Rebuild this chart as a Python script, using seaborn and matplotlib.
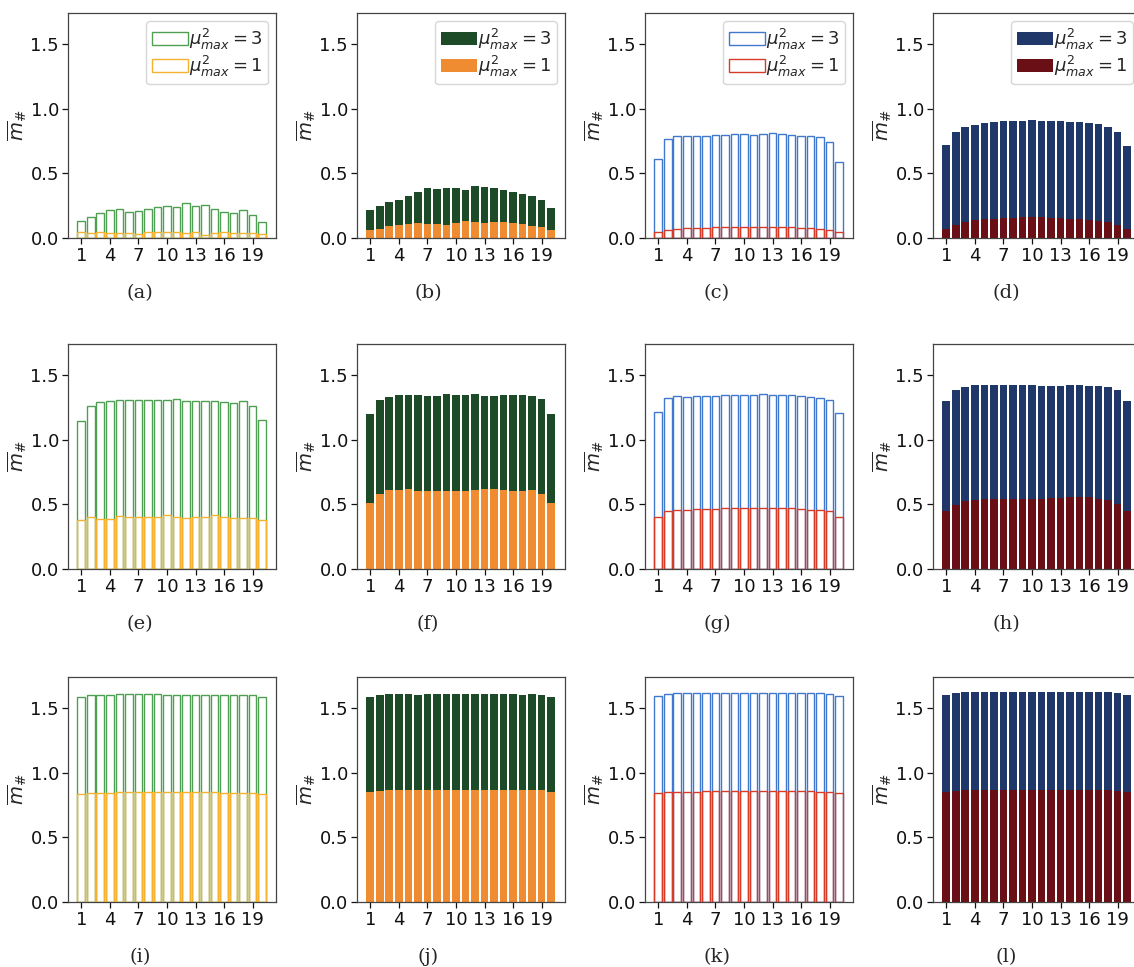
import numpy as np
import pandas as pd
import matplotlib
matplotlib.use("Agg")
import matplotlib.pyplot as plt
import seaborn as sns

sns.set_style("ticks")
plt.rcParams["font.family"] = ["DejaVu Sans"]
plt.rcParams["mathtext.fontset"] = "dejavusans"

sites = list(range(1, 21))
xtick_labels = [1, 4, 7, 10, 13, 16, 19]
panel_tags = ["(a)", "(b)", "(c)", "(d)", "(e)", "(f)", "(g)", "(h)", "(i)", "(j)", "(k)", "(l)"]
series_labels = [r"$\mu^2_{max}=3$", r"$\mu^2_{max}=1$"]

# mean occupation per site, mu^2_max = 3 (upper) and mu^2_max = 1 (lower)
a_hi = [0.129, 0.162, 0.193, 0.214, 0.224, 0.198, 0.208, 0.224, 0.239, 0.244,
        0.239, 0.270, 0.250, 0.252, 0.224, 0.203, 0.193, 0.214, 0.178, 0.121]
a_lo = [0.045, 0.040, 0.045, 0.040, 0.035, 0.035, 0.030, 0.045, 0.045, 0.050,
        0.050, 0.035, 0.045, 0.025, 0.035, 0.045, 0.035, 0.035, 0.040, 0.030]
b_hi = [0.219, 0.244, 0.275, 0.291, 0.322, 0.355, 0.386, 0.378, 0.383, 0.386,
        0.373, 0.404, 0.396, 0.383, 0.373, 0.355, 0.340, 0.322, 0.291, 0.229]
b_lo = [0.064, 0.072, 0.090, 0.103, 0.111, 0.116, 0.105, 0.105, 0.103, 0.118,
        0.129, 0.126, 0.116, 0.121, 0.121, 0.113, 0.105, 0.095, 0.085, 0.064]
c_hi = [0.610, 0.764, 0.785, 0.785, 0.792, 0.792, 0.795, 0.800, 0.803, 0.808,
        0.798, 0.805, 0.813, 0.803, 0.798, 0.792, 0.790, 0.782, 0.743, 0.589]
c_lo = [0.046, 0.064, 0.072, 0.077, 0.080, 0.080, 0.082, 0.085, 0.085, 0.085,
        0.085, 0.085, 0.085, 0.085, 0.082, 0.080, 0.077, 0.072, 0.064, 0.046]
d_hi = [0.720, 0.823, 0.859, 0.875, 0.888, 0.895, 0.906, 0.908, 0.908, 0.911,
        0.908, 0.903, 0.903, 0.900, 0.895, 0.888, 0.880, 0.859, 0.818, 0.710]
d_lo = [0.069, 0.100, 0.126, 0.139, 0.144, 0.149, 0.152, 0.157, 0.160, 0.160,
        0.160, 0.157, 0.154, 0.149, 0.147, 0.141, 0.134, 0.126, 0.103, 0.069]
e_hi = [1.145, 1.258, 1.289, 1.302, 1.304, 1.310, 1.310, 1.310, 1.304, 1.304,
        1.315, 1.302, 1.302, 1.297, 1.297, 1.291, 1.286, 1.297, 1.258, 1.150]
e_lo = [0.376, 0.399, 0.383, 0.386, 0.409, 0.406, 0.406, 0.404, 0.406, 0.414,
        0.399, 0.394, 0.404, 0.399, 0.419, 0.406, 0.396, 0.396, 0.391, 0.378]
f_hi = [1.201, 1.310, 1.330, 1.343, 1.343, 1.343, 1.335, 1.338, 1.351, 1.343,
        1.343, 1.351, 1.338, 1.338, 1.346, 1.346, 1.346, 1.340, 1.315, 1.201]
f_lo = [0.512, 0.581, 0.610, 0.610, 0.617, 0.605, 0.605, 0.602, 0.602, 0.607,
        0.605, 0.610, 0.615, 0.615, 0.612, 0.607, 0.605, 0.610, 0.581, 0.509]
g_hi = [1.212, 1.325, 1.338, 1.333, 1.340, 1.340, 1.340, 1.348, 1.348, 1.346,
        1.343, 1.351, 1.343, 1.343, 1.343, 1.338, 1.330, 1.325, 1.310, 1.207]
g_lo = [0.406, 0.448, 0.455, 0.455, 0.463, 0.466, 0.466, 0.471, 0.471, 0.468,
        0.468, 0.468, 0.468, 0.468, 0.468, 0.466, 0.460, 0.453, 0.448, 0.406]
h_hi = [1.297, 1.382, 1.410, 1.420, 1.420, 1.423, 1.423, 1.423, 1.423, 1.423,
        1.418, 1.415, 1.418, 1.420, 1.420, 1.418, 1.415, 1.407, 1.384, 1.299]
h_lo = [0.448, 0.497, 0.525, 0.535, 0.543, 0.545, 0.545, 0.543, 0.543, 0.545,
        0.545, 0.548, 0.550, 0.553, 0.553, 0.553, 0.545, 0.533, 0.502, 0.448]
i_hi = [1.587, 1.600, 1.603, 1.603, 1.605, 1.608, 1.605, 1.605, 1.608, 1.603,
        1.600, 1.600, 1.603, 1.603, 1.603, 1.603, 1.603, 1.603, 1.600, 1.585]
i_lo = [0.838, 0.844, 0.846, 0.846, 0.849, 0.851, 0.851, 0.849, 0.849, 0.854,
        0.851, 0.849, 0.849, 0.854, 0.849, 0.846, 0.844, 0.844, 0.846, 0.838]
j_hi = [1.587, 1.600, 1.605, 1.608, 1.605, 1.600, 1.605, 1.605, 1.605, 1.605,
        1.605, 1.605, 1.605, 1.605, 1.605, 1.605, 1.600, 1.605, 1.603, 1.585]
j_lo = [0.851, 0.862, 0.864, 0.867, 0.864, 0.864, 0.867, 0.864, 0.864, 0.867,
        0.867, 0.867, 0.867, 0.867, 0.867, 0.867, 0.867, 0.867, 0.867, 0.854]
k_hi = [1.590, 1.610, 1.613, 1.613, 1.613, 1.613, 1.613, 1.613, 1.613, 1.613,
        1.613, 1.615, 1.613, 1.613, 1.613, 1.613, 1.613, 1.613, 1.610, 1.590]
k_lo = [0.841, 0.849, 0.851, 0.854, 0.854, 0.856, 0.856, 0.856, 0.856, 0.856,
        0.856, 0.856, 0.856, 0.856, 0.856, 0.856, 0.856, 0.854, 0.851, 0.841]
l_hi = [1.597, 1.613, 1.621, 1.623, 1.623, 1.623, 1.623, 1.623, 1.623, 1.623,
        1.623, 1.623, 1.623, 1.623, 1.623, 1.623, 1.623, 1.623, 1.613, 1.597]
l_lo = [0.849, 0.859, 0.864, 0.867, 0.867, 0.867, 0.867, 0.867, 0.867, 0.867,
        0.867, 0.867, 0.867, 0.867, 0.867, 0.867, 0.867, 0.867, 0.859, 0.849]

panels = [(a_hi, a_lo), (b_hi, b_lo), (c_hi, c_lo), (d_hi, d_lo),
          (e_hi, e_lo), (f_hi, f_lo), (g_hi, g_lo), (h_hi, h_lo),
          (i_hi, i_lo), (j_hi, j_lo), (k_hi, k_lo), (l_hi, l_lo)]

# column styles: (upper colour, lower colour, filled)
column_styles = [
    ("#4f9f53", "#f6b22e", False),
    ("#1d4b27", "#ef8b31", True),
    ("#3f78cc", "#d63b28", False),
    ("#1f3769", "#6a0f15", True),
]

W, H = 1134, 967
fig = plt.figure(figsize=(W / 100, H / 100), dpi=100)

col_left = [68, 357, 645, 933]
row_top = [13, 344, 677]
ax_w, ax_h = 208, 225
tag_x = [140, 428, 717, 1006]
tag_y = [293, 624, 957]
fs = 13

for idx, (hi, lo) in enumerate(panels):
    r, c = divmod(idx, 4)
    col_hi, col_lo, filled = column_styles[c]
    ax = fig.add_axes([col_left[c] / W, 1 - (row_top[r] + ax_h) / H, ax_w / W, ax_h / H])
    df = pd.DataFrame({"site": sites, "hi": hi, "lo": lo})
    lw = 0 if filled else 1.0
    sns.barplot(data=df, x="site", y="hi", native_scale=True, color=col_hi,
                fill=filled, saturation=1, errorbar=None, width=0.8,
                linewidth=lw, ax=ax)
    sns.barplot(data=df, x="site", y="lo", native_scale=True, color=col_lo,
                fill=filled, saturation=1, errorbar=None, width=0.8,
                linewidth=lw, ax=ax)
    ax.set_xlim(-0.39, 21.45)
    ax.set_ylim(0, 1.74)
    ax.set_xticks(xtick_labels)
    ax.set_xticklabels([str(t) for t in xtick_labels])
    ax.set_yticks([0.0, 0.5, 1.0, 1.5])
    ax.set_yticklabels(["0.0", "0.5", "1.0", "1.5"])
    ax.tick_params(labelsize=fs, length=4, width=0.9, colors="#111111", pad=2.5)
    ax.set_xlabel("")
    ax.set_ylabel(r"$\overline{m}_{\#}$", fontsize=fs + 1, labelpad=1)
    for sp in ax.spines.values():
        sp.set_color("#444444")
        sp.set_linewidth(0.9)
    if r == 0:
        ax.legend(handles=[ax.containers[0], ax.containers[1]], labels=series_labels,
                  loc="upper right", fontsize=fs, handlelength=2.0,
                  handletextpad=0.05, borderpad=0.3, labelspacing=0.12,
                  borderaxespad=0.45, framealpha=0.8, edgecolor="#cccccc")
    fig.text(tag_x[c] / W, 1 - tag_y[r] / H, panel_tags[idx], ha="center", va="center",
             fontsize=14, family="DejaVu Serif")

fig.savefig("out.png", dpi=100, facecolor="white")
